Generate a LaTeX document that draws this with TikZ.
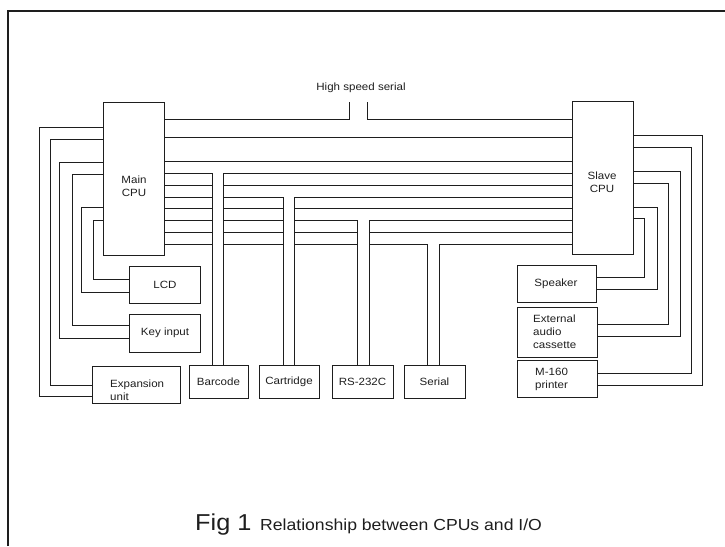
\documentclass[tikz,border=0pt]{standalone}
\usepackage{fontspec}
\setmainfont{Liberation Sans}[FakeStretch=1.1]
\definecolor{ink}{HTML}{1E1E1E}
\begin{document}
\begin{tikzpicture}[x=1pt,y=-1pt,
  wire/.style={line width=0.9pt, draw=ink},
  blk/.style={draw=ink, line width=1.3pt, inner sep=0pt, anchor=north west},
  lbl/.style={font=\fontsize{10.5}{13}\selectfont, inner sep=0pt, align=center, text=ink},
  lbll/.style={lbl, align=left, anchor=west}]
\useasboundingbox (0,0) rectangle (725,546);
% frame
\draw[line width=2.4pt, draw=ink] (8,546) -- (8,11) -- (725,11);

% CPUs
\node[blk, minimum width=61pt, minimum height=153pt] (main) at (103,102) {};
\node[lbl] (mainlbl) at (134,186) {Main\\CPU};
\node[blk, minimum width=61pt, minimum height=153pt] (slave) at (572,101) {};
\node[lbl] (slavelbl) at (602,182) {Slave\\CPU};

% left peripherals
\node[blk, minimum width=71pt, minimum height=37pt] (lcd) at (129,266) {};
\node[lbl] (lcdlbl) at (165,285) {LCD};
\node[blk, minimum width=71pt, minimum height=38pt] (key) at (129,314) {};
\node[lbl] (keylbl) at (165,333) {Key input};
\node[blk, minimum width=88pt, minimum height=37pt] (exp) at (92,366) {};
\node[lbll] (explbl) at (110,390) {Expansion\\unit};

% bottom peripherals
\node[blk, minimum width=59pt, minimum height=33pt] (bar) at (189,365) {};
\node[lbl] (barlbl) at (218.5,382) {Barcode};
\node[blk, minimum width=60pt, minimum height=33pt] (cart) at (259,365) {};
\node[lbl] (cartlbl) at (289,382) {Cartridge};
\node[blk, minimum width=61pt, minimum height=33pt] (rs) at (332,365) {};
\node[lbl] (rslbl) at (362.5,382) {RS-232C};
\node[blk, minimum width=61pt, minimum height=33pt] (ser) at (404,365) {};
\node[lbl] (serlbl) at (434.5,382) {Serial};

% right peripherals
\node[blk, minimum width=79pt, minimum height=37pt] (spk) at (517,265) {};
\node[lbl] (spklbl) at (556,284) {Speaker};
\node[blk, minimum width=80pt, minimum height=50pt] (cass) at (517,307) {};
\node[lbll] (casslbl) at (533,332) {External\\audio\\cassette};
\node[blk, minimum width=80pt, minimum height=37pt] (prn) at (517,360) {};
\node[lbll] (prnlbl) at (535,379) {M-160\\printer};

% high speed serial
\node[lbl] (hs) at (361,88) {High speed serial};
\coordinate (hsL) at (349,102);
\coordinate (hsR) at (367,102);
\draw[wire] (main.east|-0,119) -| (hsL);
\draw[wire] (slave.west|-0,119) -| (hsR);

% direct CPU links
\foreach \y in {137,161} \draw[wire] (main.east|-0,\y) -- (slave.west|-0,\y);

% main CPU left side
\draw[wire] (main.west|-0,127) -| (39,396) -- (exp.west|-0,396);
\draw[wire] (main.west|-0,139) -| (50,385) -- (exp.west|-0,385);
\draw[wire] (main.west|-0,162) -| (59,338) -- (key.west|-0,338);
\draw[wire] (main.west|-0,174) -| (72,325) -- (key.west|-0,325);
\draw[wire] (main.west|-0,207) -| (81,292) -- (lcd.west|-0,292);
\draw[wire] (main.west|-0,220) -| (93,279) -- (lcd.west|-0,279);

% slave CPU right side
\draw[wire] (slave.east|-0,135) -| (702,385) -- (prn.east|-0,385);
\draw[wire] (slave.east|-0,147) -| (691,373) -- (prn.east|-0,373);
\draw[wire] (slave.east|-0,171) -| (680,336) -- (cass.east|-0,336);
\draw[wire] (slave.east|-0,183) -| (668,324) -- (cass.east|-0,324);
\draw[wire] (slave.east|-0,207) -| (657,289) -- (spk.east|-0,289);
\draw[wire] (slave.east|-0,218) -| (644,277) -- (spk.east|-0,277);

% bus: barcode
\draw[wire] (main.east|-0,173) -| (bar.north-|212,0);
\foreach \y in {185,197,208,220,232,244} \draw[wire] (main.east|-0,\y) -- (212,\y);
\draw[wire] (slave.west|-0,173) -| (bar.north-|223,0);
\draw[wire] (223,185) -- (slave.west|-0,185);
% cartridge
\draw[wire] (223,197) -| (cart.north-|283,0);
\foreach \y in {208,220,232,244} \draw[wire] (223,\y) -- (283,\y);
\draw[wire] (slave.west|-0,197) -| (cart.north-|294,0);
\draw[wire] (294,208) -- (slave.west|-0,208);
% RS-232C
\draw[wire] (294,220) -| (rs.north-|357,0);
\foreach \y in {232,244} \draw[wire] (294,\y) -- (357,\y);
\draw[wire] (slave.west|-0,220) -| (rs.north-|369,0);
\draw[wire] (369,232) -- (slave.west|-0,232);
% Serial
\draw[wire] (369,244) -| (ser.north-|427,0);
\draw[wire] (slave.west|-0,244) -| (ser.north-|439,0);

% caption
\node[anchor=base west, inner sep=0pt, text=ink, font=\fontsize{23}{26}\selectfont] (fig) at (195,530) {Fig 1};
\node[anchor=base west, inner sep=0pt, text=ink, font=\fontsize{16}{19}\selectfont] (cap) at (260,530) {Relationship between CPUs and I/O};
\end{tikzpicture}
\end{document}
